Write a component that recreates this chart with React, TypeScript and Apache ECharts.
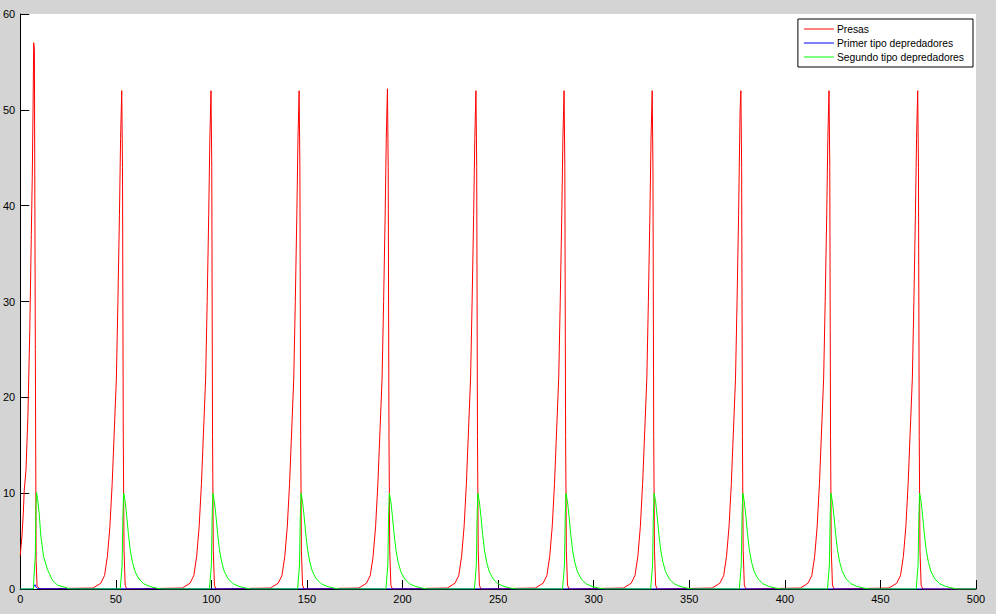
import React, { useEffect, useRef } from "react";
import * as echarts from "echarts";

const seriesNames = ["Presas", "Primer tipo depredadores", "Segundo tipo depredadores"];
const xTicks = { min: 0, max: 500, interval: 50 };
const yTicks = { min: 0, max: 60, interval: 10 };

// Presas (red) [t, value]
const presas: number[][] = [
  [0, 3.5], [0.4, 4.4], [0.9, 5.5], [1.6, 7.9], [2.1, 10.3], [3.0, 12.4], [4.0, 18], [5.0, 27], [5.8, 37], [6.3, 43], [6.7, 50], [7.05, 57], [7.4, 56.3], [7.9, 25], [8.3, 3], [8.8, 0.3], [10, 0.02],
  [38.1, 0.1], [42.1, 0.6], [44.1, 1.4], [45.6, 3.4], [46.9, 6.5], [48.1, 11], [49.3, 17], [50.3, 22], [51.1, 30], [51.9, 39], [52.5, 47], [53.1, 52], [53.5, 44], [53.9, 16], [54.3, 4], [54.9, 0.4], [55.7, 0],
  [84.8, 0.1], [88.8, 0.6], [90.8, 1.4], [92.3, 3.4], [93.6, 6.5], [94.8, 11], [96.0, 17], [97.0, 22], [97.8, 30], [98.6, 39], [99.2, 47], [99.8, 52], [100.2, 44], [100.6, 16], [101.0, 4], [101.6, 0.4], [102.4, 0],
  [130.9, 0.1], [134.9, 0.6], [136.9, 1.4], [138.4, 3.4], [139.7, 6.5], [140.9, 11], [142.1, 17], [143.1, 22], [143.9, 30], [144.7, 39], [145.3, 47], [145.9, 52], [146.3, 44], [146.7, 16], [147.1, 4], [147.7, 0.4], [148.5, 0],
  [177.1, 0.1], [181.1, 0.6], [183.1, 1.4], [184.6, 3.4], [185.9, 6.5], [187.1, 11], [188.3, 17], [189.3, 22], [190.1, 30], [190.9, 39], [191.5, 47], [192.1, 52.2], [192.5, 44], [192.9, 16], [193.3, 4], [193.9, 0.4], [194.7, 0],
  [223.4, 0.1], [227.4, 0.6], [229.4, 1.4], [230.9, 3.4], [232.2, 6.5], [233.4, 11], [234.6, 17], [235.6, 22], [236.4, 30], [237.2, 39], [237.8, 47], [238.4, 52], [238.8, 44], [239.2, 16], [239.6, 4], [240.2, 0.4], [241.0, 0],
  [269.5, 0.1], [273.5, 0.6], [275.5, 1.4], [277.0, 3.4], [278.3, 6.5], [279.5, 11], [280.7, 17], [281.7, 22], [282.5, 30], [283.3, 39], [283.9, 47], [284.5, 52], [284.9, 44], [285.3, 16], [285.7, 4], [286.3, 0.4], [287.1, 0],
  [315.6, 0.1], [319.6, 0.6], [321.6, 1.4], [323.1, 3.4], [324.4, 6.5], [325.6, 11], [326.8, 17], [327.8, 22], [328.6, 30], [329.4, 39], [330.0, 47], [330.6, 52], [331.0, 44], [331.4, 16], [331.8, 4], [332.4, 0.4], [333.2, 0],
  [362.0, 0.1], [366.0, 0.6], [368.0, 1.4], [369.5, 3.4], [370.8, 6.5], [372.0, 11], [373.2, 17], [374.2, 22], [375.0, 30], [375.8, 39], [376.3, 46], [376.6, 50], [377.0, 52], [377.4, 44], [377.8, 16], [378.2, 4], [378.8, 0.4], [379.6, 0],
  [408.1, 0.1], [412.1, 0.6], [414.1, 1.4], [415.6, 3.4], [416.9, 6.5], [418.1, 11], [419.3, 17], [420.3, 22], [421.1, 30], [421.9, 39], [422.5, 47], [423.1, 52], [423.5, 44], [423.9, 16], [424.3, 4], [424.9, 0.4], [425.7, 0],
  [454.5, 0.1], [458.5, 0.6], [460.5, 1.4], [462.0, 3.4], [463.3, 6.5], [464.5, 11], [465.7, 17], [466.7, 22], [467.5, 30], [468.3, 39], [468.9, 47], [469.5, 52], [469.9, 44], [470.3, 16], [470.7, 4], [471.3, 0.4], [472.1, 0], [500, 0],
];

// Primer tipo depredadores (blue)
const primerTipo: number[][] = [
  [0, 0], [6.6, 0], [7.2, 0.3], [7.7, 0.45], [8.3, 0.2], [9.0, 0.05], [12, 0.02], [500, 0],
];

// Segundo tipo depredadores (green)
const segundoTipo: number[][] = [
  [0, 0], [6.9, 0], [7.2, 1.3], [7.9, 3.5], [8.2, 8.5], [8.5, 10.1], [9.2, 9.2], [9.9, 7.9], [10.8, 5.5], [12.2, 3.4], [14.3, 2.0], [16.9, 0.9], [19.5, 0.4], [23.9, 0.15], [26, 0],
  [52.3, 0], [53.3, 2.5], [53.7, 7.5], [54.1, 10], [54.9, 9.1], [55.7, 7.6], [56.6, 5.7], [57.6, 4.0], [58.7, 2.8], [60.1, 1.8], [62.1, 1.05], [64.6, 0.55], [67.6, 0.28], [71.1, 0.1], [74.1, 0],
  [99.0, 0], [100.0, 2.5], [100.4, 7.5], [100.8, 10], [101.6, 9.1], [102.4, 7.6], [103.3, 5.7], [104.3, 4.0], [105.4, 2.8], [106.8, 1.8], [108.8, 1.05], [111.3, 0.55], [114.3, 0.28], [117.8, 0.1], [120.8, 0],
  [145.1, 0], [146.1, 2.5], [146.5, 7.5], [146.9, 10], [147.7, 9.1], [148.5, 7.6], [149.4, 5.7], [150.4, 4.0], [151.5, 2.8], [152.9, 1.8], [154.9, 1.05], [157.4, 0.55], [160.4, 0.28], [163.9, 0.1], [166.9, 0],
  [191.3, 0], [192.3, 2.5], [192.7, 7.5], [193.1, 10], [193.9, 9.1], [194.7, 7.6], [195.6, 5.7], [196.6, 4.0], [197.7, 2.8], [199.1, 1.8], [201.1, 1.05], [203.6, 0.55], [206.6, 0.28], [210.1, 0.1], [213.1, 0],
  [237.6, 0], [238.6, 2.5], [239.0, 7.5], [239.4, 10], [240.2, 9.1], [241.0, 7.6], [241.9, 5.7], [242.9, 4.0], [244.0, 2.8], [245.4, 1.8], [247.4, 1.05], [249.9, 0.55], [252.9, 0.28], [256.4, 0.1], [259.4, 0],
  [283.7, 0], [284.7, 2.5], [285.1, 7.5], [285.5, 10], [286.3, 9.1], [287.1, 7.6], [288.0, 5.7], [289.0, 4.0], [290.1, 2.8], [291.5, 1.8], [293.5, 1.05], [296.0, 0.55], [299.0, 0.28], [302.5, 0.1], [305.5, 0],
  [329.8, 0], [330.8, 2.5], [331.2, 7.5], [331.6, 10], [332.4, 9.1], [333.2, 7.6], [334.1, 5.7], [335.1, 4.0], [336.2, 2.8], [337.6, 1.8], [339.6, 1.05], [342.1, 0.55], [345.1, 0.28], [348.6, 0.1], [351.6, 0],
  [376.2, 0], [377.2, 2.5], [377.6, 7.5], [378.0, 10], [378.8, 9.1], [379.6, 7.6], [380.5, 5.7], [381.5, 4.0], [382.6, 2.8], [384.0, 1.8], [386.0, 1.05], [388.5, 0.55], [391.5, 0.28], [395.0, 0.1], [398.0, 0],
  [422.3, 0], [423.3, 2.5], [423.7, 7.5], [424.1, 10], [424.9, 9.1], [425.7, 7.6], [426.6, 5.7], [427.6, 4.0], [428.7, 2.8], [430.1, 1.8], [432.1, 1.05], [434.6, 0.55], [437.6, 0.28], [441.1, 0.1], [444.1, 0],
  [468.7, 0], [469.7, 2.5], [470.1, 7.5], [470.5, 10], [471.3, 9.1], [472.1, 7.6], [473.0, 5.7], [474.0, 4.0], [475.1, 2.8], [476.5, 1.8], [478.5, 1.05], [481.0, 0.55], [484.0, 0.28], [487.5, 0.1], [490.5, 0], [500, 0],
];

const colors = ["#ff0000", "#0000ff", "#00ff00"];
const FONT = "'Liberation Sans', Arial, sans-serif";

export default function App() {
  const ref = useRef<HTMLDivElement>(null);
  useEffect(() => {
    if (!ref.current) return;
    const chart = echarts.init(ref.current, undefined, { renderer: "svg" });
    const datasets = [presas, primerTipo, segundoTipo];
    chart.setOption({
      animation: false,
      backgroundColor: "#d4d4d4",
      textStyle: { fontFamily: FONT },
      grid: {
        left: 20,
        right: 20,
        top: 14,
        bottom: 25,
        show: true,
        backgroundColor: "#ffffff",
        borderWidth: 0,
        containLabel: false,
      },
      legend: {
        orient: "vertical",
        right: 23,
        top: 19,
        backgroundColor: "#ffffff",
        borderColor: "#000000",
        borderWidth: 1,
        borderRadius: 0,
        padding: [5, 9, 5, 6],
        itemGap: 4,
        itemWidth: 30,
        itemHeight: 1,
        textStyle: { fontFamily: FONT, fontSize: 10.3, color: "#000000", padding: [0, 0, 0, -2] },
        data: seriesNames.map((n) => ({ name: n, icon: "rect" })),
        selectedMode: false,
      },
      xAxis: {
        type: "value",
        min: xTicks.min,
        max: xTicks.max,
        interval: xTicks.interval,
        axisLine: { show: true, lineStyle: { color: "#000000", width: 1 } },
        axisTick: { show: true, inside: true, length: 9, lineStyle: { color: "#000000" } },
        axisLabel: { color: "#000000", fontSize: 11, fontFamily: FONT, margin: 4 },
        splitLine: { show: false },
      },
      yAxis: {
        type: "value",
        min: yTicks.min,
        max: yTicks.max,
        interval: yTicks.interval,
        axisLine: { show: true, lineStyle: { color: "#000000", width: 1 } },
        axisTick: { show: true, inside: true, length: 9, lineStyle: { color: "#000000" } },
        axisLabel: { color: "#000000", fontSize: 11, fontFamily: FONT, margin: 5 },
        splitLine: { show: false },
      },
      series: seriesNames.map((name, i) => ({
        name,
        type: "line",
        data: datasets[i],
        showSymbol: false,
        symbol: "none",
        smooth: false,
        color: colors[i],
        lineStyle: { color: colors[i], width: 1 },
        itemStyle: { color: colors[i] },
        silent: true,
      })),
    });
    return () => chart.dispose();
  }, []);
  return (
    <div
      ref={ref}
      style={{ position: "fixed", left: 0, top: 0, width: 996, height: 614 }}
    />
  );
}
